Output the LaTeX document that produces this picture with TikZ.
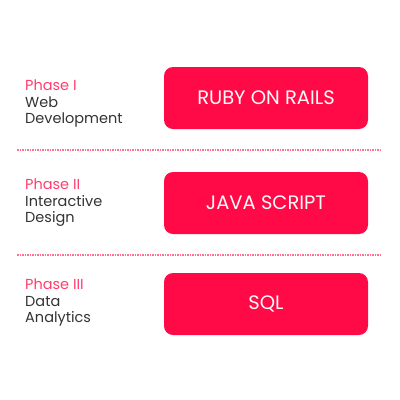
\documentclass[tikz,border=0pt]{standalone}
\usepackage{fontspec}
\setmainfont{Poppins}
\definecolor{boxred}{HTML}{FF0A47}
\definecolor{phasepink}{HTML}{FF3D6E}
\definecolor{dotpink}{HTML}{FF6F90}
\definecolor{txtgray}{HTML}{333333}
\begin{document}
\begin{tikzpicture}[x=1pt,y=-1pt,
  techbox/.style={fill=boxred,rounded corners=9pt,minimum width=204pt,minimum height=62pt,inner sep=0pt,
     text=white!92!pink,font=\fontsize{19.5}{21}\selectfont},
  phaselabel/.style={anchor=north west,align=left,inner sep=0pt,font=\fontsize{14.5}{16.5}\selectfont,text=txtgray},
  sep/.style={draw=dotpink,line width=1.2pt,dash pattern=on 1.5pt off 1pt}]
\useasboundingbox (0,0) rectangle (400,400);
\node[techbox] (b1) at (266,98) {RUBY ON RAILS};
\node[techbox] (b2) at (266,203) {JAVA SCRIPT};
\node[techbox] (b3) at (266,304) {SQL};
\node[phaselabel] (p1) at (25,80) {\textcolor{phasepink}{Phase I}\\Web\\Development};
\node[phaselabel] (p2) at (25,179) {\textcolor{phasepink}{Phase II}\\Interactive\\Design};
\node[phaselabel] (p3) at (25,279) {\textcolor{phasepink}{Phase III}\\Data\\Analytics};
\coordinate (l1a) at (17,150); \coordinate (l1b) at (382,150);
\coordinate (l2a) at (17,255); \coordinate (l2b) at (382,255);
\draw[sep] (l1a) -- (l1b);
\draw[sep] (l2a) -- (l2b);
\end{tikzpicture}
\end{document}
